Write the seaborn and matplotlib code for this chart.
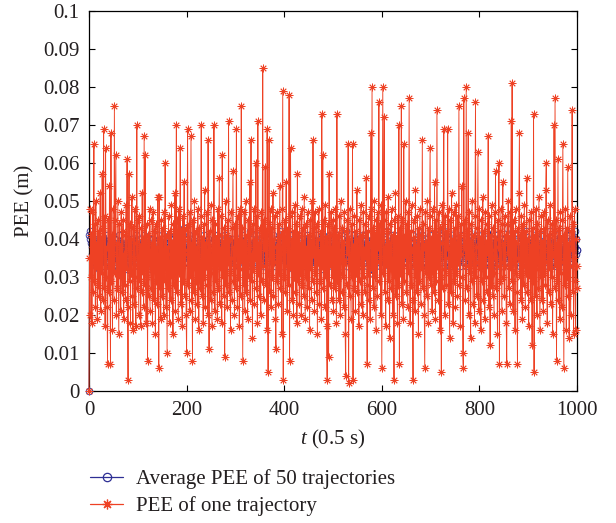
import numpy as np
import pandas as pd
import matplotlib
matplotlib.use("Agg")
import matplotlib.pyplot as plt
import seaborn as sns
from matplotlib.lines import Line2D

# ---------------- data (values in mm) ----------------
series_labels = ["Average PEE of 50 trajectories", "PEE of one trajectory"]
x_ticks = [0, 200, 400, 600, 800, 1000]
y_ticks = [0, 0.01, 0.02, 0.03, 0.04, 0.05, 0.06, 0.07, 0.08, 0.09, 0.1]
y_tick_labels = ["0", "0.01", "0.02", "0.03", "0.04", "0.05", "0.06", "0.07", "0.08", "0.09", "0.1"]

# PEE of one trajectory, t = 0 .. 1000 (mm); first point t=0 is 0
red_start = [0]
red_rows = [
    [35,20,48,30,41,18,47,26,38,65,29,44,22,50,33,39,19,45,28,42,25,36,52,21,40,31,57,24,43,69,27,46,17,64,30,38,22,7,45,33,26,54,35,7,68,29,41,16,48,36],
    [24,75,31,45,62,20,39,27,50,34,15,44,30,38,21,47,33,26,42,45,19,36,28,41,24,49,32,61,22,3,37,57,29,44,18,40,31,51,25,16,43,35,23,48,30,17,39,70,27,45],
    [33,20,46,29,38,17,43,26,52,31,40,22,67,28,62,35,18,44,30,8,41,25,37,48,21,34,45,27,39,18,47,32,24,42,36,15,44,29,38,23,51,33,6,51,27,40,19,45,31,25],
    [43,35,20,47,29,60,34,22,41,10,38,27,46,32,18,42,36,24,49,30,39,15,44,28,37,52,21,41,70,26,45,33,19,48,31,38,64,23,42,35,17,46,29,40,55,25,37,43,20,10],
    [36,69,28,44,33,21,47,30,67,24,39,8,45,32,26,50,35,19,42,29,38,23,48,34,16,43,31,27,46,70,25,40,36,18,44,30,53,22,39,33,47,28,20,66,34,11,42,37,24,49],
    [31,17,45,38,26,70,33,21,44,29,40,35,19,48,27,41,56,23,37,32,46,18,62,30,39,25,43,9,36,50,28,41,22,45,34,71,26,40,31,16,47,35,24,43,58,29,38,20,44,33],
    [27,69,36,22,46,30,40,17,48,32,25,75,34,43,8,39,28,47,21,37,50,26,41,33,19,45,30,38,55,24,42,66,29,36,14,44,32,48,23,40,35,60,27,46,18,71,31,39,25,43],
    [34,20,47,29,41,85,33,24,45,37,59,28,42,16,69,31,5,44,66,26,39,48,22,36,43,30,52,25,40,34,46,19,11,38,29,47,35,23,44,31,54,27,41,36,15,48,79,3,42,30],
    [45,26,39,55,33,21,43,37,28,78,8,46,64,32,40,24,47,35,20,42,30,49,26,38,44,18,57,29,41,34,23,46,31,39,20,48,28,43,36,25,51,33,19,44,30,38,22,47,35,27],
    [41,16,45,32,39,24,50,29,66,36,43,21,47,31,38,26,44,15,40,34,48,23,37,29,42,19,73,33,62,27,45,36,22,49,30,40,17,3,44,35,9,57,28,41,33,47,24,38,30,45],
    [21,43,36,27,48,32,18,73,29,41,35,24,46,31,20,50,37,26,43,30,39,22,47,34,15,4,42,28,45,36,65,2,40,25,48,33,19,44,30,65,3,38,27,46,35,21,42,31,53,26],
    [40,34,17,45,29,38,49,23,41,33,20,47,30,37,26,44,35,56,28,7,42,31,46,24,39,19,48,68,32,80,27,43,36,22,50,30,41,16,45,34,25,47,38,76,29,44,35,20,49,6],
    [40,80,31,45,72,26,38,17,47,33,42,24,51,29,39,14,44,35,27,48,32,20,41,37,3,45,30,52,25,40,34,18,46,28,70,7,43,31,37,75,23,45,33,19,65,29,41,36,50,26],
    [39,44,22,47,31,77,35,18,42,28,49,37,24,3,45,33,40,21,53,30,38,26,46,34,15,43,29,48,36,23,41,32,66,27,44,38,20,6,47,31,39,25,50,35,18,43,30,46,64,28],
    [40,34,21,48,31,42,26,55,37,19,45,29,74,33,41,24,47,36,16,43,30,5,39,49,27,44,69,32,20,46,35,28,42,38,69,23,48,31,14,45,37,26,52,33,40,18,47,29,43,35],
    [22,49,31,39,25,46,34,75,28,41,17,44,36,54,30,10,6,77,38,45,24,33,80,27,42,35,68,20,47,31,39,14,44,29,50,36,23,41,33,18,46,76,30,38,25,43,63,34,21,48],
    [32,40,16,45,29,37,51,24,42,35,19,47,30,39,26,44,36,67,22,46,33,12,41,28,49,37,25,43,31,20,47,35,58,27,40,33,15,45,38,60,7,42,29,48,34,21,44,55,30,39],
    [25,46,33,41,18,7,44,36,50,27,40,23,47,32,71,29,81,38,21,45,34,42,16,48,31,39,26,7,43,35,52,68,30,41,24,46,37,19,44,33,28,49,36,22,42,31,56,26,40,34],
    [17,45,30,38,24,47,35,12,43,29,73,5,41,36,25,48,32,20,44,38,27,51,33,16,42,30,46,24,39,35,21,47,31,43,28,53,60,34,18,45,37,26,41,32,49,23,38,30,44,15],
    [36,42,70,27,77,33,45,8,39,29,61,24,43,35,19,47,31,40,22,45,65,34,6,41,28,48,36,16,43,30,59,25,39,14,46,33,20,42,37,74,26,44,15,35,48,29,16,40,33,27],
]

# Average PEE of 50 trajectories, t = 0 .. 1000 (mm)
blue_start = [0]
blue_rows = [
    [41,42,40,39,41,36,38,35,40,37,34,39,36,38,33,37,40,35,38,36,32,39,37,34,38,36,40,35,37,33,39,36,38,34,37,41,35,38,36,33,39,37,35,40,34,38,36,32,39,37],
    [35,38,36,40,34,37,39,33,38,36,35,41,37,34,39,36,38,33,37,40,35,38,36,34,39,37,32,38,36,40,35,37,39,34,38,36,33,40,37,35,38,36,39,34,37,41,35,38,36,33],
    [39,37,35,40,36,34,38,37,33,39,36,35,41,37,34,38,36,39,33,37,35,40,36,38,34,37,39,32,38,36,35,40,37,34,39,36,38,33,37,35,41,36,38,34,37,39,35,36,33,38],
    [37,35,40,36,34,38,37,39,33,36,38,35,41,37,34,39,36,33,38,37,35,40,36,34,39,37,38,33,36,35,40,37,39,34,38,36,42,35,37,33,39,36,38,34,43,37,35,40,36,38],
    [34,39,37,35,41,36,38,33,37,40,35,38,36,34,39,37,35,41,36,33,38,37,39,34,36,38,35,40,37,33,39,36,38,34,37,41,35,36,39,33,38,37,35,40,36,34,39,37,38,35],
    [37,33,39,36,38,34,40,37,35,38,36,41,34,37,39,35,38,33,36,40,37,35,38,36,34,39,37,41,35,38,36,33,39,37,35,40,36,38,34,37,39,35,36,38,33,40,37,35,38,36],
    [39,34,37,36,40,35,38,33,37,39,36,35,41,37,34,38,36,39,33,37,35,40,36,38,34,39,37,35,42,36,33,38,37,35,40,36,39,34,37,38,35,36,41,37,33,39,36,38,35,37],
    [40,35,38,36,34,39,37,33,38,36,41,35,37,39,34,36,38,35,40,37,33,39,36,38,35,37,41,34,38,36,39,33,37,35,40,36,38,34,37,39,35,36,42,37,33,38,36,39,35,37],
    [38,35,40,36,33,39,37,34,38,36,41,35,37,39,34,38,36,32,40,37,35,38,36,39,34,37,35,41,36,33,38,37,39,35,36,40,34,38,37,35,39,36,33,38,37,41,35,36,39,34],
    [37,39,35,38,36,34,40,37,33,38,36,39,35,37,41,34,38,36,33,39,37,35,40,36,38,34,37,39,32,38,36,35,40,37,34,39,36,38,33,37,35,41,36,38,34,37,39,35,36,38],
    [36,40,35,38,33,37,39,36,34,41,37,35,38,36,39,33,37,35,40,36,38,34,37,39,35,36,42,37,33,38,36,39,35,37,40,34,38,36,33,39,37,35,41,36,38,34,37,39,35,36],
    [38,36,34,40,37,35,39,33,38,36,41,35,37,39,34,38,36,40,33,37,35,38,36,39,34,37,32,31,38,36,40,35,37,39,34,38,36,33,41,37,35,38,36,39,34,37,40,35,38,36],
    [33,39,37,35,40,36,38,34,37,42,35,38,36,39,33,37,35,41,36,38,34,37,39,35,36,40,37,33,38,36,39,35,37,41,34,38,36,33,39,37,35,40,36,38,34,37,39,35,36,38],
    [37,35,40,36,33,38,37,39,35,36,41,37,34,38,36,39,33,37,35,40,36,38,34,37,42,35,38,36,39,33,37,35,41,36,38,34,37,39,35,36,40,37,33,38,36,39,35,37,41,34],
    [38,36,33,39,37,35,40,36,38,34,37,41,35,38,36,39,33,37,35,40,36,38,34,37,39,35,36,42,37,33,38,36,39,35,37,40,34,38,36,33,39,37,35,41,36,38,34,37,39,35],
    [36,38,35,40,37,34,39,36,38,33,37,41,36,38,35,39,34,37,36,40,35,38,33,37,39,36,35,42,37,34,38,36,39,32,37,40,35,38,36,34,39,37,33,41,36,38,35,37,39,34],
    [37,39,35,38,36,41,34,37,39,33,38,36,40,35,37,34,39,36,38,35,37,42,33,38,36,39,35,37,40,34,38,36,33,39,37,35,41,36,38,34,37,39,35,36,40,37,33,38,36,39],
    [35,37,40,34,38,36,43,37,35,39,33,38,36,41,35,37,39,34,38,36,33,40,37,35,38,36,39,34,37,41,35,38,36,33,39,37,35,40,36,38,34,37,39,35,36,42,37,33,38,36],
    [39,35,37,40,34,38,36,33,39,37,35,41,36,38,34,37,39,35,36,40,37,33,38,36,39,35,37,41,34,38,36,33,39,37,35,40,36,38,34,37,39,35,36,42,37,33,38,36,39,35],
    [37,40,34,38,36,33,39,37,35,41,36,38,34,37,39,35,36,40,37,33,38,36,39,35,37,42,34,38,36,33,39,37,35,41,36,38,34,37,40,35,36,39,37,33,38,42,36,40,37,37],
]

red_pee = np.array(red_start + [v for r in red_rows for v in r], dtype=float) / 1000.0
blue_pee = np.array(blue_start + [v for r in blue_rows for v in r], dtype=float) / 1000.0
t_red = np.arange(len(red_pee))
t_blue = np.arange(len(blue_pee))

df_blue = pd.DataFrame({"t": t_blue, "PEE": blue_pee})
df_red = pd.DataFrame({"t": t_red, "PEE": red_pee})

# ---------------- style ----------------
BLUE = "#2E2F94"
RED = "#EE4124"
TXT = "#231F20"

sns.set_style("ticks")
plt.rcParams["font.family"] = ["Liberation Serif", "DejaVu Serif"]
plt.rcParams["mathtext.fontset"] = "custom"
plt.rcParams["mathtext.it"] = "Liberation Serif:italic"
plt.rcParams["mathtext.rm"] = "Liberation Serif"

fig = plt.figure(figsize=(6.16, 5.23), dpi=100)
ax = fig.add_axes([89 / 616, 1 - 391 / 523, (577 - 89) / 616, 380 / 523])

sns.lineplot(data=df_blue, x="t", y="PEE", ax=ax, color=BLUE, linewidth=0.55,
             marker="o", markersize=4.8, markerfacecolor="none",
             markeredgecolor=BLUE, markeredgewidth=0.6,
             estimator=None, sort=False, legend=False, clip_on=False, zorder=2)
sns.lineplot(data=df_red, x="t", y="PEE", ax=ax, color=RED, linewidth=0.65,
             marker=(8, 2, 0), markersize=5.5,
             markeredgecolor=RED, markeredgewidth=0.6,
             estimator=None, sort=False, legend=False, clip_on=False, zorder=3)

ax.set_xlim(0, 1000)
ax.set_ylim(0, 0.1)
ax.set_xticks(x_ticks)
ax.set_xticklabels([str(v) for v in x_ticks])
ax.set_yticks(y_ticks)
ax.set_yticklabels(y_tick_labels)
ax.tick_params(direction="in", length=4.5, width=0.8, top=True, right=True,
               labelsize=15, pad=7, colors="black", labelcolor=TXT)
for s in ax.spines.values():
    s.set_visible(True)
    s.set_linewidth(0.9)
    s.set_color("black")

ax.set_xlabel("$t$ (0.5 s)", fontsize=15, labelpad=6, color=TXT)
ax.set_ylabel("PEE (m)", fontsize=15, labelpad=6, color=TXT)

handles = [
    Line2D([], [], color=BLUE, lw=0.9, marker="o", markersize=6,
           markerfacecolor="none", markeredgecolor=BLUE, markeredgewidth=0.9),
    Line2D([], [], color=RED, lw=0.9, marker=(8, 2, 0), markersize=7,
           markeredgecolor=RED, markeredgewidth=0.9),
]
fig.legend(handles, series_labels, loc="upper left",
           bbox_to_anchor=(90 / 616, 1 - 469 / 523), frameon=False,
           fontsize=15, handlelength=1.6, handletextpad=0.6,
           labelspacing=0.36, borderpad=0, borderaxespad=0,
           labelcolor=TXT)

fig.savefig("out.png", dpi=100)
